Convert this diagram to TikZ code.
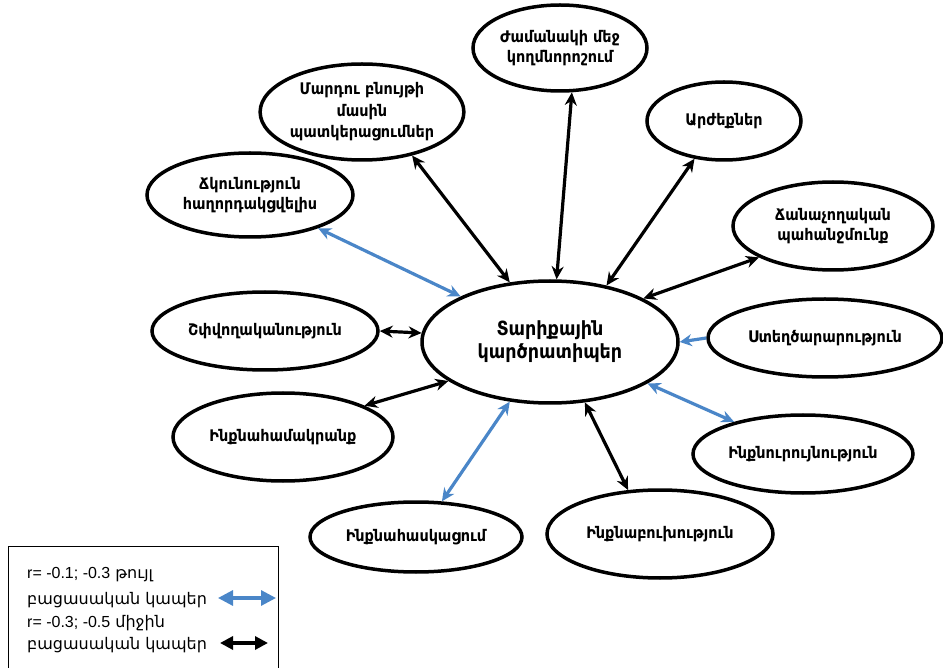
\documentclass[tikz,border=0pt]{standalone}
\usepackage{fontspec}
\setmainfont{DejaVu Sans}
\newfontfamily\lib{Liberation Sans}
\newfontfamily\hyb{DejaVu Sans Condensed Bold}
\usetikzlibrary{arrows.meta,shapes.geometric}
\definecolor{bl}{RGB}{74,134,200}
\tikzset{
  ell/.style={ellipse,draw,line width=3.5pt,inner sep=0pt,align=center,font=\hyb\fontsize{16}{20}\selectfont},
  con/.style={line width=3.2pt,{Stealth[length=13pt,width=12pt]}-{Stealth[length=13pt,width=12pt]}},
  blk/.style={con,draw=black},
  blu/.style={con,draw=bl},
  legtxt/.style={anchor=base west,inner sep=0pt,font=\fontsize{16}{22}\selectfont}
}
\begin{document}
\begin{tikzpicture}[x=1pt,y=-1pt]
\useasboundingbox (0,0) rectangle (943,668);
\node[ell,minimum width=256pt,minimum height=122pt,font=\hyb\fontsize{19.5}{23}\selectfont] (c) at (550,342) {Տարիքային\\կարծրատիպեր};
\node[ell,minimum width=174pt,minimum height=86pt] (zam) at (560,48) {Ժամանակի մեջ\\կողմնորոշում};
\node[ell,minimum width=194pt,minimum height=96pt,font=\hyb\fontsize{16}{21.5}\selectfont] (mar) at (362,112) {Մարդու բնույթի\\մասին\\պատկերացումներ};
\node[ell,minimum width=154pt,minimum height=78pt] (arj) at (724,121) {Արժեքներ};
\node[ell,minimum width=206pt,minimum height=84pt] (chk) at (250,195) {Ճկունություն\\հաղորդակցվելիս};
\node[ell,minimum width=200pt,minimum height=88pt] (chan) at (833,226) {Ճանաչողական\\պահանջմունք};
\node[ell,minimum width=226pt,minimum height=78pt] (shp) at (265,331) {Շփվողականություն};
\node[ell,minimum width=234pt,minimum height=78pt] (ste) at (825,338) {Ստեղծարարություն};
\node[ell,minimum width=220pt,minimum height=88pt] (ham) at (283,437) {Ինքնահամակրանք};
\node[ell,minimum width=220pt,minimum height=78pt] (ur) at (803,454) {Ինքնուրույնություն};
\node[ell,minimum width=212pt,minimum height=70pt] (has) at (416,537) {Ինքնահասկացում};
\node[ell,minimum width=226pt,minimum height=88pt] (bux) at (660,534) {Ինքնաբուխություն};
% black connectors
\draw[blk] (mar.-41) -- (c.124);
\draw[blk] (zam.-75) -- (c.84);
\draw[blk] (arj.232) -- (c.45);
\draw[blk] (chan.203) -- (c.25);
\draw[blk] (shp.0) -- (c.176);
\draw[blk] (ham.21) -- (c.201);
\draw[blk] (bux.126) -- (c.-60);
% blue connectors
\draw[blu] (chk.-26) -- (c.153);
\draw[line width=3.2pt,draw=bl,-{Stealth[length=12pt,width=12pt]}] (ste.180) -- (c.0);
\draw[blu] (ur.155) -- (c.-23);
\draw[blu] (has.54) -- (c.-124);
% legend
\node[draw,line width=1.2pt,minimum width=270pt,minimum height=130pt,anchor=north west,inner sep=0pt] (leg) at (8,546) {};
\node[legtxt] (l1) at (27,578) {{\lib r= -0.1; -0.3} թույլ};
\node[legtxt] (l2) at (27,604) {բացասական կապեր};
\node[legtxt] (l3) at (27,627) {{\lib r= -0.3; -0.5} միջին};
\node[legtxt] (l4) at (27,649) {բացասական կապեր};
\coordinate (b1) at (218,598);
\coordinate (b2) at (276,598);
\coordinate (k1) at (220,643);
\coordinate (k2) at (268,643);
\draw[line width=3.2pt,draw=bl,{Triangle[length=15pt,width=15pt]}-{Triangle[length=15pt,width=15pt]}] (b1) -- (b2);
\draw[line width=3.2pt,{Triangle[length=13pt,width=13pt]}-{Triangle[length=13pt,width=13pt]}] (k1) -- (k2);
\end{tikzpicture}
\end{document}
